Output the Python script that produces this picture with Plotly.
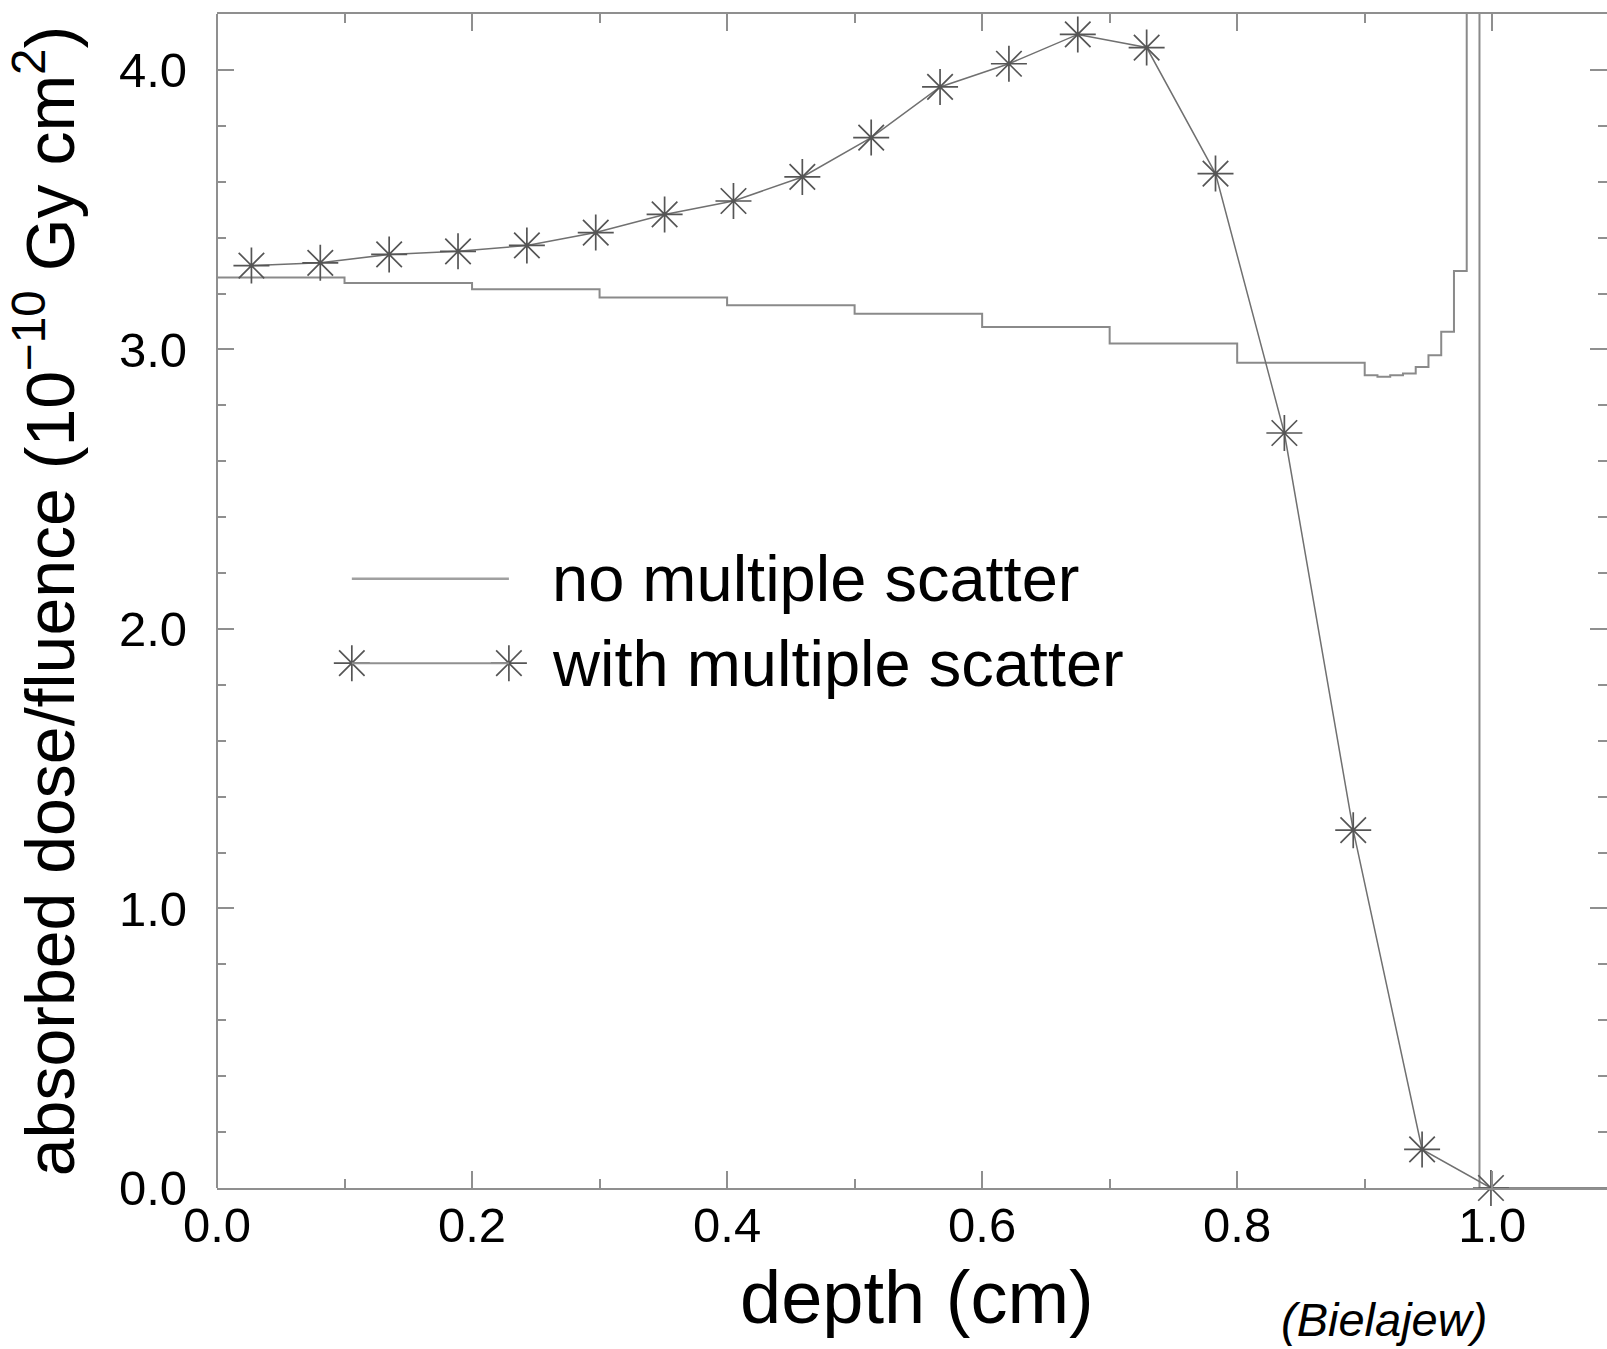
import plotly.graph_objects as go

# ---------------- data ----------------
# "no multiple scatter": histogram bin edges (cm) and dose per bin (1e-10 Gy cm^2)
ns_edges = [0.0, 0.1, 0.2, 0.3, 0.4, 0.5, 0.6, 0.7, 0.8, 0.9, 0.91, 0.92, 0.93,
            0.94, 0.95, 0.96, 0.97, 0.98, 0.99, 1.09]
ns_dose = [3.257, 3.238, 3.215, 3.186, 3.158, 3.128, 3.080, 3.021, 2.952, 2.908,
           2.902, 2.908, 2.914, 2.937, 2.979, 3.063, 3.281, 12.0, 0.0]

# "with multiple scatter": depth (cm) and dose
ms_depth = [0.027, 0.081, 0.135, 0.189, 0.243, 0.297, 0.351, 0.405, 0.459, 0.513,
            0.567, 0.621, 0.675, 0.729, 0.783, 0.837, 0.891, 0.945, 0.999]
ms_dose = [3.300, 3.310, 3.340, 3.351, 3.372, 3.418, 3.483, 3.531, 3.617, 3.758,
           3.939, 4.022, 4.127, 4.080, 3.629, 2.701, 1.280, 0.138, 0.0]

series_names = ["no multiple scatter", "with multiple scatter"]
x_ticks = [0.0, 0.2, 0.4, 0.6, 0.8, 1.0]
y_ticks = [0.0, 1.0, 2.0, 3.0, 4.0]

FONT = "Liberation Sans, Arial, Helvetica, sans-serif"
AXIS_GRAY = "#8f8f8f"
STEP_GRAY = "#8a8a8a"
STAR_LINE = "#707070"
STAR_COL = "#555555"

X_RANGE = [0, 1.09]
Y_RANGE = [0, 4.2]

fig = go.Figure()

# step histogram
fig.add_trace(go.Scatter(
    x=ns_edges, y=ns_dose + [ns_dose[-1]],
    mode="lines", line=dict(shape="hv", color=STEP_GRAY, width=2),
    name=series_names[0], showlegend=False))

# line with asterisks
fig.add_trace(go.Scatter(
    x=ms_depth, y=ms_dose, mode="lines+markers",
    line=dict(color=STAR_LINE, width=1.5),
    marker=dict(symbol="asterisk-open", size=30, color=STAR_COL,
                line=dict(color=STAR_COL, width=1.7)),
    cliponaxis=False,
    name=series_names[1], showlegend=False))

# ---- hand-drawn legend (positions as fractions of the plot area) ----
leg_x = [0.097, 0.210]
leg_y = [0.519, 0.447]
leg_text_x = 0.2396
fig.add_shape(type="line", xref="paper", yref="paper",
              x0=leg_x[0], x1=leg_x[1], y0=leg_y[0], y1=leg_y[0],
              line=dict(color="#a0a0a0", width=2.5))
fig.add_shape(type="line", xref="paper", yref="paper",
              x0=leg_x[0], x1=leg_x[1], y0=leg_y[1], y1=leg_y[1],
              line=dict(color="#909090", width=2))
fig.add_trace(go.Scatter(
    x=[f * X_RANGE[1] for f in leg_x], y=[leg_y[1] * Y_RANGE[1]] * 2,
    mode="markers",
    marker=dict(symbol="asterisk-open", size=30, color=STAR_COL,
                line=dict(color=STAR_COL, width=1.7)),
    showlegend=False, hoverinfo="skip"))

for name, yy in zip(series_names, leg_y):
    fig.add_annotation(
        x=leg_text_x, y=yy, xref="paper", yref="paper", text=name,
        xanchor="left", yanchor="middle", showarrow=False,
        font=dict(family=FONT, size=65, color="black"))

# x axis title (placed as text below the tick labels)
fig.add_annotation(
    x=(917 - 217) / 1390, y=-(1297 - 1188) / 1174, xref="paper", yref="paper",
    text="depth (cm)", showarrow=False, xanchor="center", yanchor="middle",
    borderpad=0, font=dict(family=FONT, size=74, color="black"))

# source credit, bottom right (paper coordinates)
fig.add_annotation(
    x=(1384 - 217) / 1390, y=-(1347 - 1188) / 1174, xref="paper", yref="paper",
    text="<i>(Bielajew)</i>", showarrow=False, xanchor="center", yanchor="bottom",
    borderpad=0, font=dict(family=FONT, size=47, color="black"))

# left axis line (the y axis itself only mirrors its ticks to the right edge)
fig.add_shape(type="line", xref="paper", yref="paper", x0=0, x1=0, y0=0, y1=1,
              line=dict(color=AXIS_GRAY, width=2), layer="above")

axis_common = dict(
    ticks="inside", ticklen=17, tickwidth=1.5, mirror="ticks",
    tickcolor=AXIS_GRAY, showgrid=False, zeroline=False,
    tickfont=dict(family=FONT, size=49, color="black"),
    tickformat=".1f",
)

fig.update_layout(
    width=1607, height=1349,
    margin=dict(l=217, r=0, t=14, b=161),
    paper_bgcolor="white", plot_bgcolor="white",
    font=dict(family=FONT, color="black"),
    xaxis=dict(
        **axis_common, range=X_RANGE, tickvals=x_ticks,
        showline=True, linecolor=AXIS_GRAY, linewidth=2,
        minor=dict(dtick=0.1, tick0=0, ticks="inside", ticklen=9,
                   tickcolor=AXIS_GRAY, tickwidth=1.5),
        ticklabelstandoff=-7,
    ),
    yaxis=dict(
        **axis_common, range=Y_RANGE, tickvals=y_ticks,
        showline=False,
        minor=dict(dtick=0.2, tick0=0, ticks="inside", ticklen=9,
                   tickcolor=AXIS_GRAY, tickwidth=1.5),
        ticklabelstandoff=29,
        title=dict(text="absorbed dose/fluence (10<sup>\u221210</sup> Gy cm<sup>2</sup>)",
                   standoff=22,
                   font=dict(family=FONT, size=68, color="black")),
    ),
)

fig.write_html("out.html")
